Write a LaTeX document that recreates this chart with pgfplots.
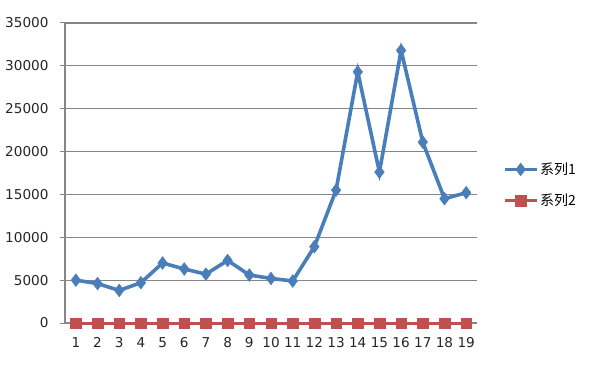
\documentclass[border=0pt]{standalone}
\usepackage{fontspec}
\setmainfont{DejaVu Sans}
\newfontfamily\cjk{Noto Sans CJK SC}
\usepackage{pgfplots}
\pgfplotsset{compat=1.18}
\definecolor{xlblue}{RGB}{74,126,187}
\definecolor{xlred}{RGB}{192,80,77}
\definecolor{xlgrid}{RGB}{134,134,134}
\begin{document}
\begin{tikzpicture}[x=1pt,y=1pt]
\path[use as bounding box] (0,0) rectangle (609,364);
\begin{axis}[
  at={(65pt,41pt)}, anchor=south west,
  scale only axis, width=412pt, height=300pt,
  xmin=0.5, xmax=19.5, ymin=0, ymax=35000,
  axis lines*=left,
  axis line style={xlgrid, line width=1.2pt},
  xtick={1,...,19},
  xtick style={draw=none},
  extra x ticks={0.5,1.5,...,19.5},
  extra x tick labels={},
  extra x tick style={major tick length=5pt, tick style={xlgrid, line width=1pt, draw=xlgrid}, tick align=outside, grid=none},
  ytick={0,5000,...,35000},
  ymajorgrids, grid style={xlgrid, line width=1.2pt},
  major tick length=5pt, tick align=outside,
  ytick style={xlgrid, line width=1pt},
  scaled y ticks=false,
  /pgf/number format/assume math mode=true,
  /pgf/number format/1000 sep={},
  tick label style={font=\fontsize{13.6}{15}\selectfont, text=black!85},
  xticklabel style={yshift=-6pt},
  yticklabel style={xshift=-8pt},
  clip=false,
  legend style={draw=none, at={(1.063,0.46)}, anchor=west, font=\cjk\fontsize{14}{16}\selectfont, row sep=14pt, inner sep=0pt},
  legend cell align=left,
  legend image code/.code={\draw[mark repeat=2,mark phase=2,#1, line width=3pt] plot coordinates {(0pt,0pt) (16pt,0pt) (32pt,0pt)};},
]
\addplot[xlblue, line width=3.6pt, mark=diamond*, mark size=6.5pt, mark options={solid, line width=0.3pt}] coordinates {
(1,5000) (2,4600) (3,3800) (4,4700) (5,7000) (6,6300) (7,5700) (8,7300) (9,5600) (10,5200)
(11,4900) (12,8900) (13,15500) (14,29300) (15,17600) (16,31800) (17,21100) (18,14500) (19,15200)
};
\addlegendentry{系列1}
\addplot[xlred, line width=3pt, mark=square*, mark size=5.3pt, mark options={solid, line width=0.3pt}] coordinates {
(1,0) (2,0) (3,0) (4,0) (5,0) (6,0) (7,0) (8,0) (9,0) (10,0)
(11,0) (12,0) (13,0) (14,0) (15,0) (16,0) (17,0) (18,0) (19,0)
};
\addlegendentry{系列2}
\end{axis}
\end{tikzpicture}
\end{document}
